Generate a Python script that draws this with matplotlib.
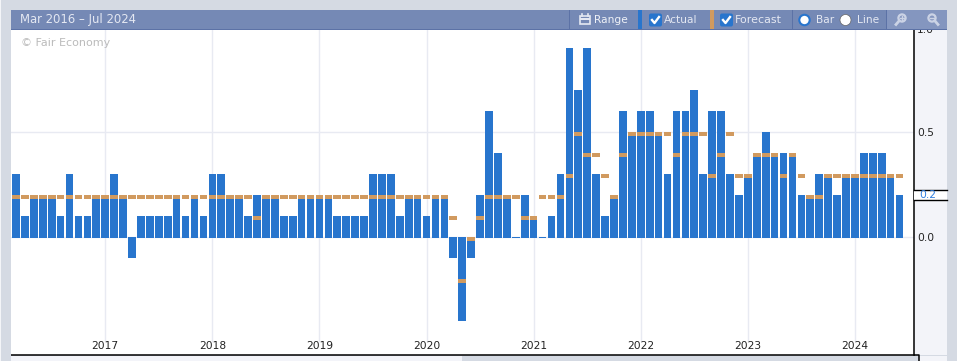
import matplotlib
matplotlib.use("Agg")
import matplotlib.pyplot as plt
from matplotlib.patches import Rectangle, Circle, FancyBboxPatch

# monthly values, Mar 2016 - Jun 2024
actual = [0.3, 0.1, 0.2, 0.2, 0.2, 0.1, 0.3, 0.1, 0.1, 0.2,
          0.2, 0.3, 0.2, -0.1, 0.1, 0.1, 0.1, 0.1, 0.2, 0.1,
          0.2, 0.1, 0.3, 0.3, 0.2, 0.2, 0.1, 0.2, 0.2, 0.2,
          0.1, 0.1, 0.2, 0.2, 0.2, 0.2, 0.1, 0.1, 0.1, 0.1,
          0.3, 0.3, 0.3, 0.1, 0.2, 0.2, 0.1, 0.2, 0.2, -0.1,
          -0.4, -0.1, 0.2, 0.6, 0.4, 0.2, 0.0, 0.2, 0.1, 0.0,
          0.1, 0.3, 0.9, 0.7, 0.9, 0.3, 0.1, 0.2, 0.6, 0.5,
          0.6, 0.6, 0.5, 0.3, 0.6, 0.6, 0.7, 0.3, 0.6, 0.6,
          0.3, 0.2, 0.3, 0.4, 0.5, 0.4, 0.4, 0.4, 0.2, 0.2,
          0.3, 0.3, 0.2, 0.3, 0.3, 0.4, 0.4, 0.4, 0.3, 0.2]
forecast = [0.2, 0.2, 0.2, 0.2, 0.2, 0.2, 0.2, 0.2, 0.2, 0.2,
            0.2, 0.2, 0.2, 0.2, 0.2, 0.2, 0.2, 0.2, 0.2, 0.2,
            0.2, 0.2, 0.2, 0.2, 0.2, 0.2, 0.2, 0.1, 0.2, 0.2,
            0.2, 0.2, 0.2, 0.2, 0.2, 0.2, 0.2, 0.2, 0.2, 0.2,
            0.2, 0.2, 0.2, 0.2, 0.2, 0.2, 0.2, 0.2, 0.2, 0.1,
            -0.2, 0.0, 0.1, 0.2, 0.2, 0.2, 0.2, 0.1, 0.1, 0.2,
            0.2, 0.2, 0.3, 0.5, 0.4, 0.4, 0.3, 0.2, 0.4, 0.5,
            0.5, 0.5, 0.5, 0.5, 0.4, 0.5, 0.5, 0.5, 0.3, 0.4,
            0.5, 0.3, 0.3, 0.4, 0.4, 0.4, 0.3, 0.4, 0.3, 0.2,
            0.2, 0.3, 0.3, 0.3, 0.3, 0.3, 0.3, 0.3, 0.3, 0.3]
years = ["2016", "2017", "2018", "2019", "2020", "2021", "2022", "2023", "2024"]
year_index = [-2, 10, 22, 34, 46, 58, 70, 82, 94]

BLUE = "#2875cd"
ORANGE = "#d19a5f"
PAGE = "#d5dae3"
STRIP = "#f3f4f9"
HEAD = "#7589b5"
HEAD_LIGHT = "#8496bf"
HEAD_LINE = "#5c72a6"
HEAD_TEXT = "#e4e8f2"
ICON = "#cbd3e5"
GRID = "#e8eaf2"

W, H = 959, 361
plt.rcParams["font.family"] = "DejaVu Sans"
plt.rcParams["font.size"] = 7.7

fig = plt.figure(figsize=(W / 100, H / 100), dpi=100, facecolor=PAGE)


def pixel_axes(z):
    a = fig.add_axes([0, 0, 1, 1], zorder=z)
    a.set_xlim(0, W)
    a.set_ylim(H, 0)
    a.axis("off")
    a.patch.set_alpha(0)
    return a


# strip behind the value labels on the right
back = pixel_axes(0)
back.add_patch(Rectangle((914, 30), 33, 325, facecolor=STRIP, linewidth=0))

ax = fig.add_axes([11 / W, 1 - 355 / H, (914 - 11) / W, (355 - 30) / H], zorder=1)

months = list(range(len(actual)))
px = 1 / 210
heights = [v + px if v >= 0 else v for v in actual]
bottoms = [-px if v >= 0 else 0 for v in actual]
ax.bar(months, heights, bottom=bottoms, width=0.86, color=BLUE, linewidth=0, zorder=3)
ax.bar(months, [-4.4 * px] * len(forecast), bottom=forecast, width=0.86, color=ORANGE,
       linewidth=0, zorder=4)

for x in year_index:
    ax.axvline(x, ymin=0.043, color=GRID, linewidth=1, zorder=1)
for y in [0, 0.5]:
    ax.axhline(y, color=GRID, linewidth=1, zorder=1)

ax.set_xticks(year_index, years)
ax.tick_params(axis="x", length=0, pad=-10, colors="#222222")
ax.yaxis.tick_right()
ax.set_yticks([0, 0.5], ["0.0", "0.5"])
ax.tick_params(axis="y", length=0, pad=2.5, colors="#222222")

# one month = 8.925 px, one unit = 210 px
ax.set_xlim((11 - 16) / 8.925, (914 - 16) / 8.925)
ax.set_ylim(-118 / 210, 207 / 210)

# the top label sits half under the header
ax.text(1.003, 0.985, "1.0", transform=ax.get_yaxis_transform(), color="#222222",
        va="center", ha="left", clip_on=False)
for s in ["top", "left"]:
    ax.spines[s].set_visible(False)
for s in ["right", "bottom"]:
    ax.spines[s].set_linewidth(1.1)

# page chrome drawn in pixel coordinates on top of the chart
ui = pixel_axes(2)


def box(x0, y0, x1, y1, color, z=1):
    ui.add_patch(Rectangle((x0, y0), x1 - x0, y1 - y0, facecolor=color, linewidth=0, zorder=z))


def label(x, y, s, color=HEAD_TEXT, ha="left", **kw):
    ui.text(x, y, s, color=color, ha=ha, va="center", zorder=6, **kw)


def checkbox(x):
    ui.add_patch(FancyBboxPatch((x + 1.5, 15), 10, 10, boxstyle="round,pad=1.5,rounding_size=2",
                                facecolor=BLUE, linewidth=0, zorder=5))
    ui.plot([x + 3, x + 5.5, x + 10], [20, 23, 17], color="white", linewidth=1.7, zorder=6)


def magnifier(x, minus):
    ui.add_patch(Circle((x, 18), 3.6, facecolor="none", edgecolor=ICON, linewidth=1.6, zorder=6))
    ui.plot([x - 2, x + 2], [18, 18], color=ICON, linewidth=1, zorder=6)
    if minus:
        ui.plot([x + 3, x + 6], [21, 24.5], color=ICON, linewidth=2, zorder=6)
    else:
        ui.plot([x, x], [16, 20], color=ICON, linewidth=1, zorder=6)
        ui.plot([x - 3, x - 6], [21, 24.5], color=ICON, linewidth=2, zorder=6)


box(0, 0, 1, H, "#f4f5f8", 2)
box(1, 0, 11, H, PAGE)
box(0, 0, W, 10, PAGE)
box(947, 0, 957, H, PAGE)
box(957, 0, W, H, "white")
box(11, 355.5, 462, H, STRIP)
box(462, 355.5, 919, H, PAGE)
box(919, 355.5, 947, H, STRIP)
ui.plot([914.5, 919, 919], [355, 355, H], color="black", linewidth=1.1, zorder=3)

# 0.2 flag on the right axis
box(914, 189.5, 947, 200, "white", 3)
ui.plot([914, 947], [189.5, 189.5], color="black", linewidth=1, zorder=4)
ui.plot([914, 947], [200, 200], color="black", linewidth=1, zorder=4)
label(919, 195, "0.2", color="#2f7fe0")

label(21, 43, "© Fair Economy", color="#bbbbbb", fontsize=8)

# header bar
box(11, 10, 947, 29, HEAD, 2)
box(11, 29, 947, 30, HEAD_LINE, 2)
box(886, 10, 947, 29, HEAD_LIGHT, 3)
for x in [569, 792, 886, 916.5]:
    box(x, 10, x + 0.8, 29, HEAD_LINE, 4)
box(638, 10, 642, 29, BLUE, 4)
box(710, 10, 713.5, 29, ORANGE, 4)

label(20, 20, "Mar 2016 – Jul 2024", fontsize=8.35)

# calendar icon
ui.add_patch(Rectangle((580, 16), 10, 8, facecolor="none", edgecolor=HEAD_TEXT, linewidth=1.2, zorder=6))
box(580, 18, 590, 20, HEAD_TEXT, 6)
ui.plot([582, 582], [14, 16], color=HEAD_TEXT, linewidth=1.2, zorder=6)
ui.plot([588, 588], [14, 16], color=HEAD_TEXT, linewidth=1.2, zorder=6)
label(594, 20, "Range", color="#eef1f7")

checkbox(649)
label(664, 20, "Actual")
checkbox(720)
label(735, 20, "Forecast", fontsize=7.9)

ui.add_patch(Circle((804.5, 20), 5.2, facecolor="white", edgecolor=BLUE, linewidth=1.5, zorder=6))
label(816, 20, "Bar")
ui.add_patch(Circle((845.5, 20), 5.5, facecolor="white", edgecolor="#666666", linewidth=0.5, zorder=5))
label(857, 20, "Line")

magnifier(902, False)
magnifier(932, True)

fig.savefig("out.png", dpi=100, facecolor=PAGE)
